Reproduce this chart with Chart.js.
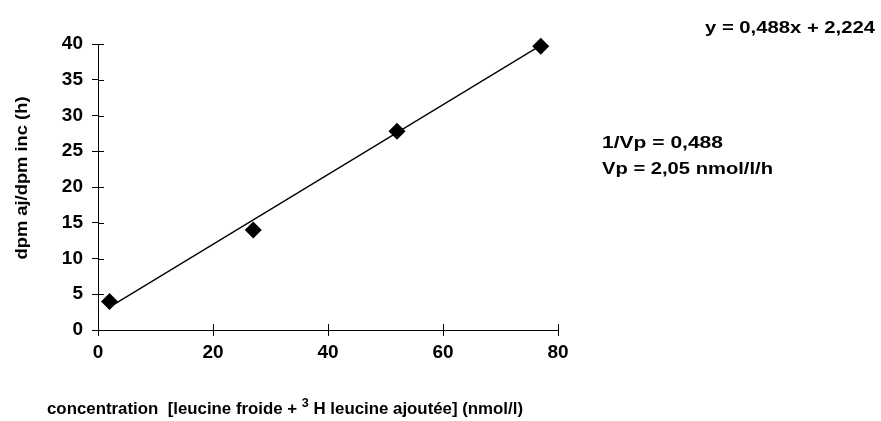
<!DOCTYPE html>
<html>
<head>
<meta charset="utf-8">
<script src="https://cdn.jsdelivr.net/npm/chart.js@4.4.1/dist/chart.umd.min.js"></script>
<style>
  html, body { margin: 0; padding: 0; background: #fff; }
  #wrap { width: 881px; height: 421px; }
</style>
</head>
<body>
<div id="wrap"><canvas id="myChart"></canvas></div>
<script>
"use strict";

// measured points
const concentrations = [2, 27, 52, 77];
const dpmRatios = [4.0, 14.0, 27.8, 39.7];

// trendline ends (y = 0,488x + 2,224)
const trendX = [2, 77];
const trendY = [3.2, 39.8];

const xTicks = [0, 20, 40, 60, 80];
const yTicks = [0, 5, 10, 15, 20, 25, 30, 35, 40];

const FONT = '"Liberation Sans", Arial, sans-serif';

function stretchText(ctx, text, x, y, width, size, rotate) {
  ctx.save();
  ctx.font = 'bold ' + size + 'px ' + FONT;
  ctx.fillStyle = '#000';
  const w = ctx.measureText(text).width;
  ctx.translate(x, y);
  if (rotate) {
    ctx.rotate(-Math.PI / 2);
    ctx.textAlign = 'center';
    ctx.textBaseline = 'middle';
  } else {
    ctx.textAlign = 'left';
    ctx.textBaseline = 'alphabetic';
  }
  ctx.scale(width / w, 1);
  ctx.fillText(text, 0, 0);
  ctx.restore();
}

// x title with a real superscript 3
function xTitle(ctx, x, y, width) {
  const parts = [
    { t: 'concentration  [leucine froide + ', s: 16, dy: 0 },
    { t: '3', s: 12, dy: -7 },
    { t: ' H leucine ajoutée] (nmol/l)', s: 16, dy: 0 }
  ];
  ctx.save();
  ctx.fillStyle = '#000';
  ctx.textAlign = 'left';
  ctx.textBaseline = 'alphabetic';
  let total = 0;
  parts.forEach(p => {
    ctx.font = 'bold ' + p.s + 'px ' + FONT;
    p.w = ctx.measureText(p.t).width;
    total += p.w;
  });
  ctx.translate(x, y);
  ctx.scale(width / total, 1);
  let cx = 0;
  parts.forEach(p => {
    ctx.font = 'bold ' + p.s + 'px ' + FONT;
    ctx.fillText(p.t, cx, p.dy);
    cx += p.w;
  });
  ctx.restore();
}

const annotations = {
  id: 'annotations',
  afterDraw(chart) {
    const ctx = chart.ctx;
    const xs = chart.scales.x, ys = chart.scales.y;
    // inner half of the crossing tick marks
    ctx.save();
    ctx.strokeStyle = '#000';
    ctx.lineWidth = 1;
    ctx.beginPath();
    xs.ticks.forEach(t => {
      const px = Math.round(xs.getPixelForValue(t.value)) + 0.5;
      ctx.moveTo(px, ys.bottom);
      ctx.lineTo(px, ys.bottom - 6);
    });
    ys.ticks.forEach(t => {
      const py = Math.round(ys.getPixelForValue(t.value)) + 0.5;
      ctx.moveTo(xs.left, py);
      ctx.lineTo(xs.left + 6, py);
    });
    ctx.stroke();
    ctx.restore();

    stretchText(ctx, 'y = 0,488x + 2,224', 705, 33, 170, 17);
    stretchText(ctx, '1/Vp = 0,488', 602, 148, 121, 17);
    stretchText(ctx, 'Vp = 2,05 nmol/l/h', 602, 174, 171, 17);
    xTitle(ctx, 47, 414, 476);
    stretchText(ctx, 'dpm aj/dpm inc (h)', 22, 178, 163, 17, true);
  }
};

const ctx = document.getElementById('myChart').getContext('2d');
const myChart = new Chart(ctx, {
  type: 'scatter',
  data: {
    datasets: [{
      label: 'dpm aj/dpm inc',
      data: concentrations.map((x, i) => ({ x: x, y: dpmRatios[i] })),
      pointStyle: 'rectRot',
      pointRadius: 8.5,
      pointBackgroundColor: '#000',
      pointBorderColor: '#000',
      pointBorderWidth: 0,
      showLine: false,
      clip: false,
      order: 1
    }, {
      label: 'Linéaire',
      data: trendX.map((x, i) => ({ x: x, y: trendY[i] })),
      showLine: true,
      borderColor: '#000',
      borderWidth: 1.3,
      pointRadius: 0,
      fill: false,
      clip: false,
      order: 2
    }]
  },
  options: {
    responsive: true,
    maintainAspectRatio: false,
    animation: false,
    events: [],
    layout: { padding: { left: 0, right: 323, top: 44, bottom: 0 } },
    plugins: {
      legend: { display: false },
      tooltip: { enabled: false }
    },
    scales: {
      x: {
        type: 'linear',
        min: 0,
        max: 80,
        afterBuildTicks: s => { s.ticks = xTicks.map(v => ({ value: v })); },
        afterFit: s => { s.height = 91; },
        border: { color: '#000', width: 1 },
        grid: { drawOnChartArea: false, tickLength: 6, color: '#000' },
        ticks: {
          color: '#000',
          padding: 5,
          maxRotation: 0,
          font: { family: FONT, size: 19, weight: 'bold' }
        }
      },
      y: {
        type: 'linear',
        min: 0,
        max: 40,
        afterBuildTicks: s => { s.ticks = yTicks.map(v => ({ value: v })); },
        afterFit: s => { s.width = 98; },
        border: { color: '#000', width: 1 },
        grid: { drawOnChartArea: false, tickLength: 6, color: '#000' },
        ticks: {
          color: '#000',
          padding: 9,
          font: { family: FONT, size: 19, weight: 'bold' }
        }
      }
    }
  },
  plugins: [annotations]
});
</script>
</body>
</html>
